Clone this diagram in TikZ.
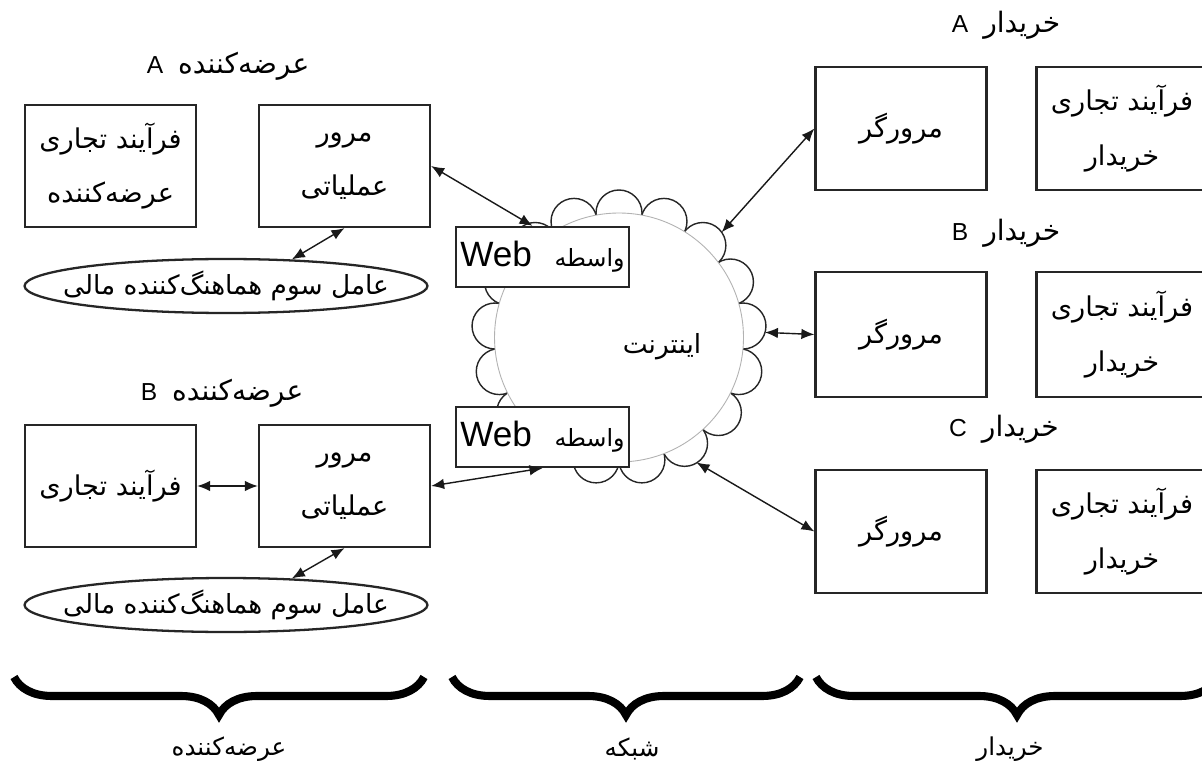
\documentclass[tikz,border=0pt]{standalone}
\usepackage{fontspec}
\setmainfont{Liberation Sans}
\newfontfamily\arabicfont[Script=Arabic]{DejaVu Sans}
\TeXXeTstate=1
\usetikzlibrary{shapes.geometric,arrows.meta,decorations.pathreplacing,calc}
\newcommand{\prs}[1]{{\arabicfont\beginR #1\endR}}
\newcommand{\ttl}[2]{{\fontsize{14}{16}\selectfont #1}\hspace{0.3cm}{\fontsize{16}{18}\selectfont\prs{#2}}}
\newcommand{\webtxt}{{\fontsize{20}{22}\selectfont Web}\hspace{0.45cm}{\fontsize{13.5}{16}\selectfont\prs{واسطه}}}
\begin{document}
\begin{tikzpicture}[x=0.02cm,y=0.02cm,
  linecol/.style={draw=black!85},
  box/.style={linecol, line width=1.3pt, inner sep=0pt, minimum width=3.42cm, minimum height=2.44cm, align=center,
    font=\fontsize{15.5}{31}\selectfont},
  webbox/.style={linecol, line width=1.3pt, fill=white, inner sep=0pt, minimum width=3.46cm, minimum height=1.2cm},
  ell/.style={ellipse, linecol, line width=1.3pt, inner sep=0pt, minimum width=8.06cm, minimum height=1.08cm},
  elltext/.style={label={[font=\fontsize{15}{18}\selectfont, inner sep=0pt]center:#1}},
  title/.style={inner sep=0pt},
  bump/.style={linecol, line width=0.8pt, fill=white},
  conn/.style={{Latex[length=2.6mm,width=2.1mm]}-{Latex[length=2.6mm,width=2.1mm]}, line width=0.8pt, black!90},
  brc/.style={decorate, decoration={brace, amplitude=0.76cm, aspect=0.5, mirror}, line width=4.6pt, black},
  blabel/.style={font=\fontsize{14}{16}\selectfont, inner sep=0pt}
]
\clip (0,0) rectangle (1202,761);
\fill[white] (0,0) rectangle (1202,761);

% ---------- supplier A ----------
\node[title] (tA) at (228,695) {\ttl{A}{عرضه‌کننده}};
\node[box] (a1) at (110.5,595) {\prs{فرآیند تجاری}\\\prs{عرضه‌کننده}};
\node[box] (a2) at (344.5,595) {\prs{مرور}\\\prs{عملیاتی}};
\node[ell, elltext={\prs{عامل سوم هماهنگ‌کننده مالی}}] (ea) at (226,475) {};

% ---------- supplier B ----------
\node[title] (tB) at (222,368) {\ttl{B}{عرضه‌کننده}};
\node[box] (b1) at (110.5,275) {\prs{فرآیند تجاری}};
\node[box] (b2) at (344.5,275) {\prs{مرور}\\\prs{عملیاتی}};
\node[ell, elltext={\prs{عامل سوم هماهنگ‌کننده مالی}}] (eb) at (226,156) {};

% ---------- network ----------
\coordinate (nc) at (619,423.5);
\foreach \k in {0,...,16}
  \draw[bump] ($(nc)+({90+\k*360/17}:124.5)$) circle[radius=23];
\node[circle, draw=black!30, line width=0.5pt, fill=white, minimum size=4.98cm, inner sep=0pt] (net) at (nc) {};
\node[font=\fontsize{15}{18}\selectfont, inner sep=0pt] (inet) at (662,414) {\prs{اینترنت}};
\node[webbox] (wa) at (542.5,504) {\webtxt};
\node[webbox] (wb) at (542.5,324) {\webtxt};

% ---------- buyers ----------
\node[title] (tbA) at (1006,736) {\ttl{A}{خریدار}};
\node[box, minimum height=2.46cm] (ba) at (901,632.5) {\prs{مرورگر}};
\node[box, minimum height=2.46cm] (pa) at (1122,632.5) {\prs{فرآیند تجاری}\\\prs{خریدار}};

\node[title] (tbB) at (1006,528) {\ttl{B}{خریدار}};
\node[box, minimum height=2.5cm] (bb) at (901,426.5) {\prs{مرورگر}};
\node[box, minimum height=2.5cm] (pb) at (1122,426.5) {\prs{فرآیند تجاری}\\\prs{خریدار}};

\node[title] (tbC) at (1004,332) {\ttl{C}{خریدار}};
\node[box, minimum height=2.46cm] (bc) at (901,229.5) {\prs{مرورگر}};
\node[box, minimum height=2.46cm] (pc) at (1122,229.5) {\prs{فرآیند تجاری}\\\prs{خریدار}};

% ---------- connectors ----------
\draw[conn] (a2.east) -- ([xshift=-0.2cm]wa.north);
\draw[conn] (ea.22) -- (a2.south);
\draw[conn] (b1.east) -- (b2.west);
\draw[conn] (b2.east) -- (wb.south);
\draw[conn] (eb.22) -- (b2.south);
\coordinate (pA) at ($(nc)+(45.7:147)$);
\coordinate (pB) at ($(nc)+(2:146)$);
\coordinate (pC) at ($(nc)+(-58.2:147)$);
\draw[conn] (pA) -- (ba.west);
\draw[conn] (pB) -- (bb.west);
\draw[conn] (pC) -- (bc.west);

% ---------- braces ----------
\coordinate (s1) at (14,84);  \coordinate (s2) at (424,84);
\coordinate (n1) at (452,84); \coordinate (n2) at (800,84);
\coordinate (k1) at (816,84); \coordinate (k2) at (1218,84);
\draw[brc] (s1) -- (s2);
\draw[brc] (n1) -- (n2);
\draw[brc] (k1) -- (k2);
\node[blabel] (ls) at (229,12) {\prs{عرضه‌کننده}};
\node[blabel] (ln) at (632,12) {\prs{شبکه}};
\node[blabel] (lk) at (1010,12) {\prs{خریدار}};
\end{tikzpicture}
\end{document}
